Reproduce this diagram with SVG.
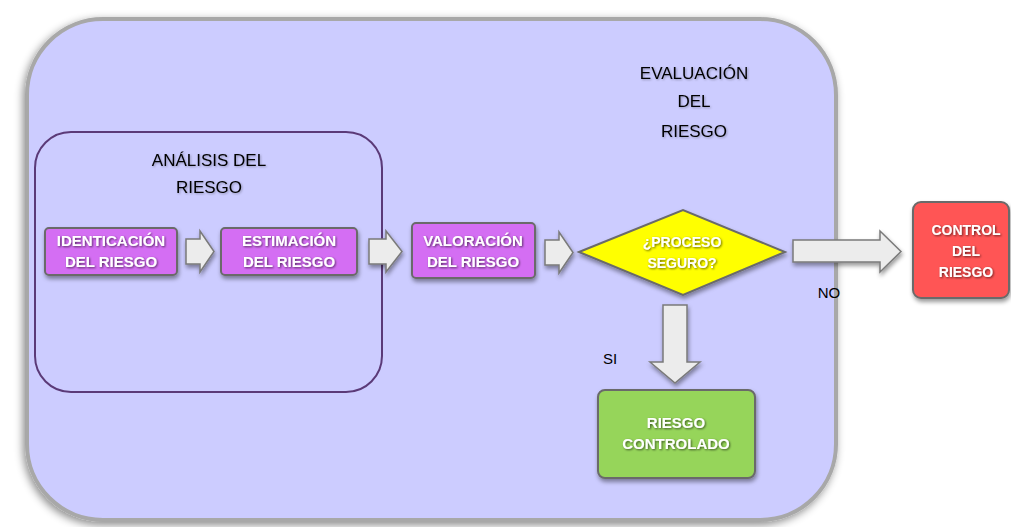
<svg xmlns="http://www.w3.org/2000/svg" width="1011" height="527" viewBox="0 0 1011 527">
<defs>
<filter id="sh" x="-10%" y="-10%" width="120%" height="125%"><feDropShadow dx="-2" dy="3" stdDeviation="4" flood-color="#000" flood-opacity="0.45"/></filter>
<filter id="bs" x="-10%" y="-10%" width="125%" height="130%"><feDropShadow dx="1" dy="3" stdDeviation="2" flood-color="#000" flood-opacity="0.4"/></filter>
<filter id="ts" x="-10%" y="-20%" width="120%" height="150%"><feDropShadow dx="1" dy="1" stdDeviation="1" flood-color="#000" flood-opacity="0.6"/></filter>
<filter id="tl" x="-10%" y="-20%" width="120%" height="150%"><feDropShadow dx="1" dy="1" stdDeviation="1" flood-color="#000" flood-opacity="0.3"/></filter>
</defs>
<style>
.lbl{font-family:"Liberation Sans",Arial,sans-serif;font-size:17px;fill:#000;text-anchor:middle}
.bt{font-family:"Liberation Sans",Arial,sans-serif;font-weight:bold;font-size:15px;fill:#fff;text-anchor:middle}
.box{stroke:#6a6a6a;stroke-width:2}
.arr{fill:#ececec;stroke:#7a7a7a;stroke-width:1.5;stroke-linejoin:miter}
</style>
<rect width="1011" height="527" fill="#fff"/>
<g id="evaluacion">
<rect x="27" y="19" width="809" height="501" rx="76" ry="76" fill="#ccccff" stroke="#a8a8a8" stroke-width="4" filter="url(#sh)"/>
<g filter="url(#tl)"><text class="lbl" x="694" y="79">EVALUACIÓN</text>
<text class="lbl" x="694" y="107">DEL</text>
<text class="lbl" x="694" y="137">RIESGO</text></g>
</g>
<g id="analisis">
<rect x="35" y="132" width="347" height="260" rx="36" ry="36" fill="none" stroke="#5b3a78" stroke-width="2"/>
<g filter="url(#tl)"><text class="lbl" x="209" y="166">ANÁLISIS DEL</text>
<text class="lbl" x="209" y="193">RIESGO</text></g>
</g>
<g id="identificacion">
<rect class="box" x="45" y="228" width="132" height="47" rx="4" fill="#d46ef3" filter="url(#bs)"/>
<g filter="url(#ts)"><text class="bt" x="111" y="246">IDENTICACIÓN</text><text class="bt" x="111" y="267">DEL RIESGO</text></g>
</g>
<g id="estimacion">
<rect class="box" x="221" y="228" width="136" height="47" rx="4" fill="#d46ef3" filter="url(#bs)"/>
<g filter="url(#ts)"><text class="bt" x="289" y="246">ESTIMACIÓN</text><text class="bt" x="289" y="267">DEL RIESGO</text></g>
</g>
<g id="valoracion">
<rect class="box" x="412" y="223" width="123" height="55" rx="4" fill="#d46ef3" filter="url(#bs)"/>
<g filter="url(#ts)"><text class="bt" x="473" y="246">VALORACIÓN</text><text class="bt" x="473" y="267">DEL RIESGO</text></g>
</g>
<g id="decision">
<polygon class="box" points="579,252 683,210 785,252 683,295" fill="#ffff00" filter="url(#bs)"/>
<g filter="url(#ts)"><text class="bt" x="682" y="247" style="font-size:14px">¿PROCESO</text><text class="bt" x="682" y="268" style="font-size:14px">SEGURO?</text></g>
</g>
<g id="control">
<rect class="box" x="913" y="202" width="96" height="96" rx="8" fill="#ff5555" filter="url(#bs)"/>
<g filter="url(#ts)"><text class="bt" x="966" y="235" style="font-size:14px">CONTROL</text><text class="bt" x="966" y="256" style="font-size:14px">DEL</text><text class="bt" x="966" y="277" style="font-size:14px">RIESGO</text></g>
</g>
<g id="controlado">
<rect class="box" x="598" y="390" width="157" height="88" rx="7" fill="#96d55a" filter="url(#bs)"/>
<g filter="url(#ts)"><text class="bt" x="676" y="428">RIESGO</text><text class="bt" x="676" y="449">CONTROLADO</text></g>
</g>
<g id="connectors">
<polygon class="arr" points="186,239 200,239 200,231 214,251.5 200,272 200,264 186,264" filter="url(#bs)"/>
<polygon class="arr" points="369,239 386,239 386,231 402,251.5 386,272 386,264 369,264" filter="url(#bs)"/>
<polygon class="arr" points="545,240 559,240 559,232 573,252.5 559,273 559,265 545,265" filter="url(#bs)"/>
<polygon class="arr" points="793,240 880,240 880,231 901,251.5 880,272 880,262 793,262" filter="url(#bs)"/>
<polygon class="arr" points="663,305 687,305 687,362 700,362 675,383 650,362 663,362" filter="url(#bs)"/>
<text class="lbl" x="829" y="298" style="font-size:15px">NO</text>
<text class="lbl" x="610" y="364" style="font-size:15px">SI</text>
</g>
</svg>
